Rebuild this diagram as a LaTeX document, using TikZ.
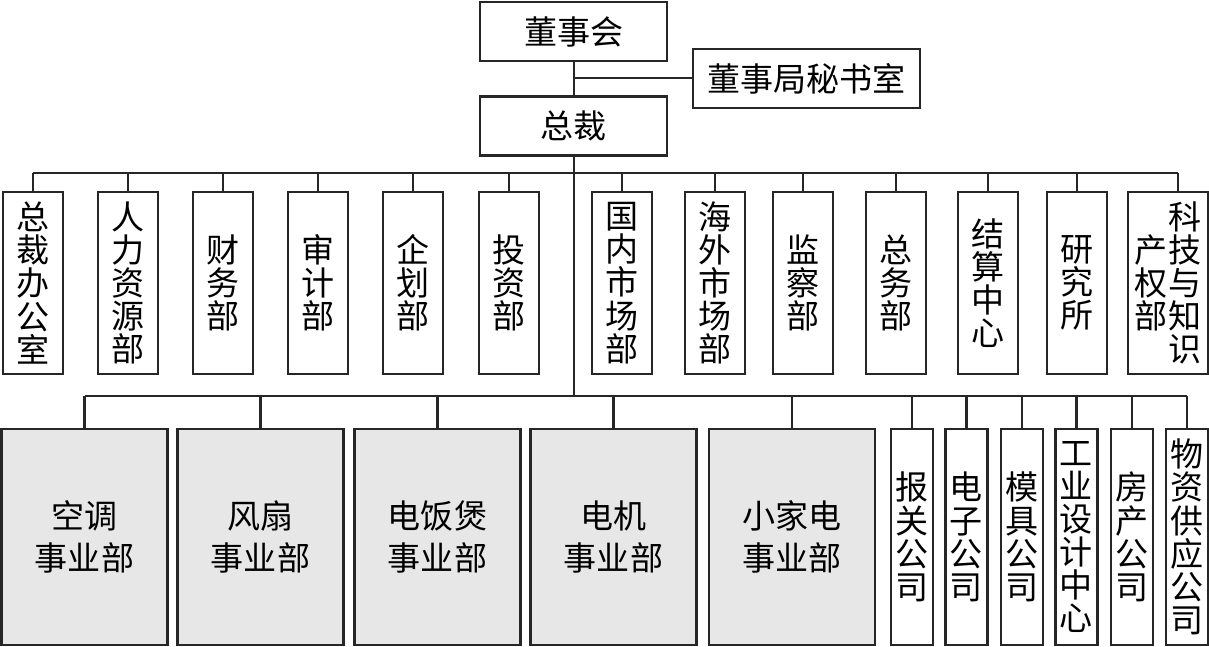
\documentclass[tikz,border=0pt]{standalone}
\usepackage{fontspec}
\newfontfamily\cjk{Noto Sans CJK SC}
\usetikzlibrary{positioning}
\definecolor{BoxGray}{RGB}{231,231,231}
\definecolor{LineBlk}{RGB}{38,38,38}

\begin{document}
\begin{tikzpicture}[
	box/.style={draw=LineBlk, line width=1.5pt, align=center, inner sep=0pt,
		font=\cjk\fontsize{23.5}{23.6}\selectfont},
	topbox/.style={box, minimum width=4.675cm, minimum height=1.475cm},
	dept/.style={box, minimum width=1.5cm, minimum height=4.55cm},
	divn/.style={box, fill=BoxGray, minimum width=4.15cm, minimum height=5.4cm,
		font=\cjk\fontsize{23.5}{30}\selectfont},
	firm/.style={box, minimum width=1.05cm, minimum height=5.4cm},
	link/.style={draw=LineBlk, line width=1.5pt}]
	\useasboundingbox (0,0) rectangle (30.225,-16.175);
	% top
	\node[topbox] (board) at (14.34,-0.79) {董事会};
	\node[topbox] (ceo) at (14.34,-3.15) {总裁};
	\node[topbox, minimum width=5.675cm] (sec) at (20.16,-1.96) {董事局秘书室};
	% functional departments
	\node[dept] (d1) at (0.825,-7.075) {总\\裁\\办\\公\\室};
	\node[dept] (d2) at (3.2,-7.075) {人\\力\\资\\源\\部};
	\node[dept] (d3) at (5.575,-7.075) {财\\务\\部};
	\node[dept] (d4) at (7.95,-7.075) {审\\计\\部};
	\node[dept] (d5) at (10.325,-7.075) {企\\划\\部};
	\node[dept] (d6) at (12.725,-7.075) {投\\资\\部};
	\node[dept] (d7) at (15.55,-7.075) {国\\内\\市\\场\\部};
	\node[dept] (d8) at (17.875,-7.075) {海\\外\\市\\场\\部};
	\node[dept] (d9) at (20.075,-7.075) {监\\察\\部};
	\node[dept] (d10) at (22.4,-7.075) {总\\务\\部};
	\node[dept] (d11) at (24.7,-7.075) {结\\算\\中\\心};
	\node[dept] (d12) at (26.925,-7.075) {研\\究\\所};
	\node[dept, minimum width=2cm] (d13) at (29.2,-7.075)
		{\hphantom{产}科\\产技\\权与\\部知\\\hphantom{部}识};
	% business divisions
	\node[divn] (v1) at (2.1125,-13.425) {空调\\事业部};
	\node[divn] (v2) at (6.5125,-13.425) {风扇\\事业部};
	\node[divn] (v3) at (10.9375,-13.425) {电饭煲\\事业部};
	\node[divn] (v4) at (15.3375,-13.425) {电机\\事业部};
	\node[divn] (v5) at (19.8,-13.425) {小家电\\事业部};
	% companies
	\node[firm] (c1) at (22.8,-13.425) {报\\关\\公\\司};
	\node[firm] (c2) at (24.1625,-13.425) {电\\子\\公\\司};
	\node[firm] (c3) at (25.55,-13.425) {模\\具\\公\\司};
	\node[firm] (c4) at (26.9125,-13.425) {工\\业\\设\\计\\中\\心};
	\node[firm] (c5) at (28.3,-13.425) {房\\产\\公\\司};
	\node[firm] (c6) at (29.675,-13.425) {物\\资\\供\\应\\公\\司};
	% connectors
	\coordinate (bus1) at (14.34,-4.325);
	\coordinate (bus2) at (14.34,-9.9);
	\draw[link] (board) -- (ceo);
	\draw[link] (sec.west) -- (sec.west -| board.south);
	\draw[link] (ceo) -- (bus2);
	\draw[link] (d1.north |- bus1) -- ([xshift=0.25cm]d13.north |- bus1);
	\draw[link] (d1.north) -- (d1.north |- bus1) (d2.north) -- (d2.north |- bus1)
		(d3.north) -- (d3.north |- bus1) (d4.north) -- (d4.north |- bus1)
		(d5.north) -- (d5.north |- bus1) (d6.north) -- (d6.north |- bus1)
		(d7.north) -- (d7.north |- bus1) (d8.north) -- (d8.north |- bus1)
		(d9.north) -- (d9.north |- bus1) (d10.north) -- (d10.north |- bus1)
		(d11.north) -- (d11.north |- bus1) (d12.north) -- (d12.north |- bus1)
		([xshift=0.25cm]d13.north) -- ([xshift=0.25cm]d13.north |- bus1);
	\draw[link] (v1.north |- bus2) -- (c6.north |- bus2);
	\draw[link] (v1.north) -- (v1.north |- bus2) (v2.north) -- (v2.north |- bus2)
		(v3.north) -- (v3.north |- bus2) (v4.north) -- (v4.north |- bus2)
		(v5.north) -- (v5.north |- bus2) (c1.north) -- (c1.north |- bus2)
		(c2.north) -- (c2.north |- bus2) (c3.north) -- (c3.north |- bus2)
		(c4.north) -- (c4.north |- bus2) (c5.north) -- (c5.north |- bus2)
		(c6.north) -- (c6.north |- bus2);
\end{tikzpicture}
\end{document}
